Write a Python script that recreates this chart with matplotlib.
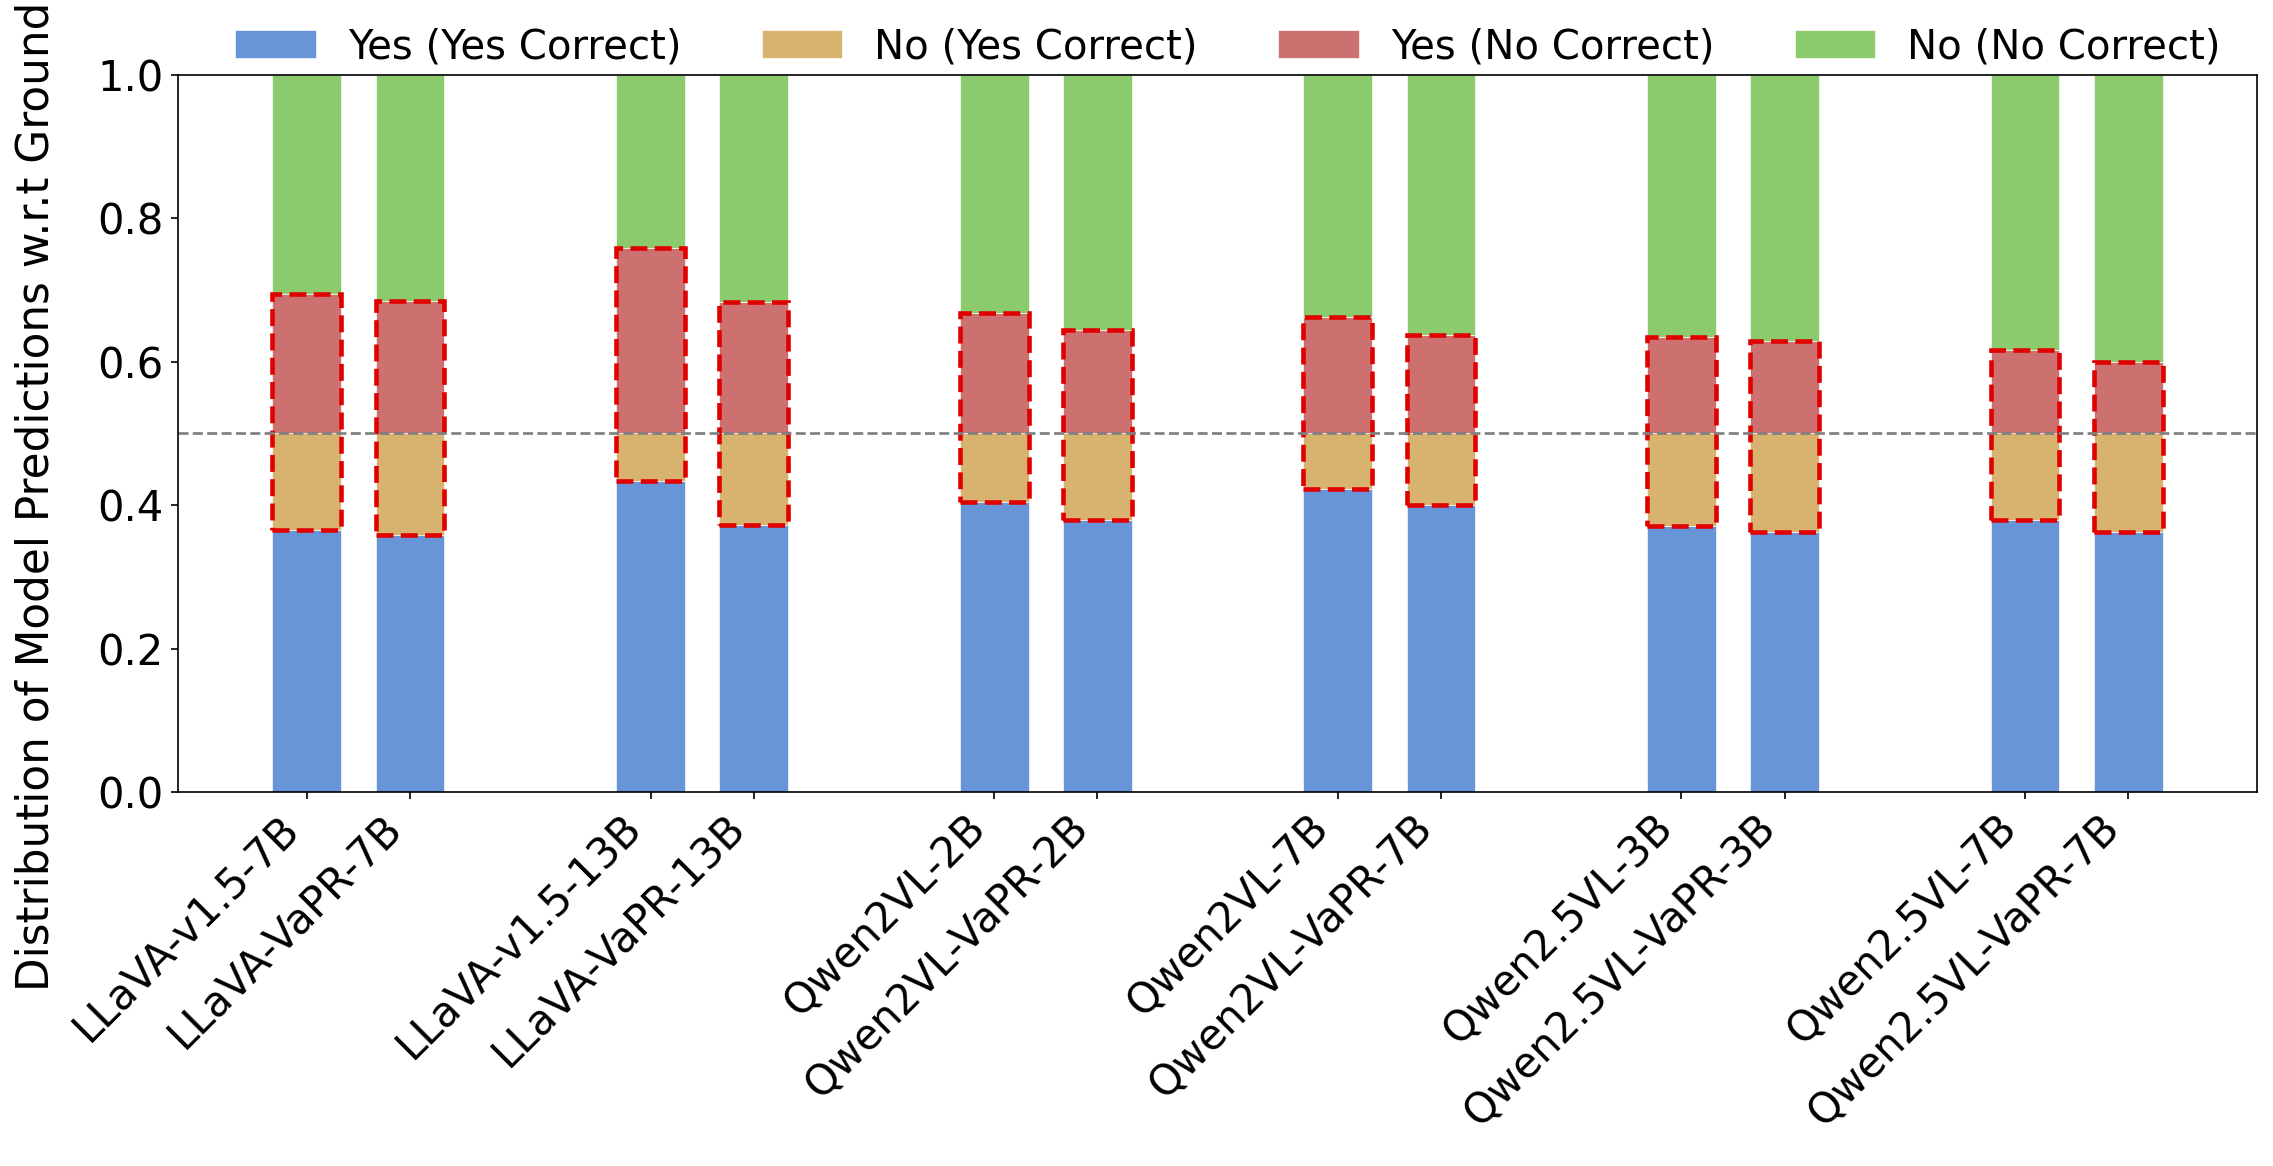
import matplotlib

matplotlib.use("Agg")
import matplotlib.pyplot as plt
import numpy as np

models = [
    "LLaVA-v1.5-7B", "LLaVA-VaPR-7B",
    "LLaVA-v1.5-13B", "LLaVA-VaPR-13B",
    "Qwen2VL-2B", "Qwen2VL-VaPR-2B",
    "Qwen2VL-7B", "Qwen2VL-VaPR-7B",
    "Qwen2.5VL-3B", "Qwen2.5VL-VaPR-3B",
    "Qwen2.5VL-7B", "Qwen2.5VL-VaPR-7B",
]

# fractions of all predictions (each ground-truth half sums to 0.5)
yes_yes = [0.365, 0.359, 0.434, 0.373, 0.404, 0.379,
           0.422, 0.400, 0.371, 0.363, 0.379, 0.362]
no_yes = [0.135, 0.141, 0.066, 0.127, 0.096, 0.121,
          0.078, 0.100, 0.129, 0.137, 0.121, 0.138]
yes_no = [0.194, 0.185, 0.258, 0.183, 0.168, 0.144,
          0.163, 0.137, 0.135, 0.129, 0.117, 0.100]
no_no = [0.306, 0.315, 0.242, 0.317, 0.332, 0.356,
         0.337, 0.363, 0.365, 0.371, 0.383, 0.400]

labels = ["Yes (Yes Correct)", "No (Yes Correct)", "Yes (No Correct)", "No (No Correct)"]
colors = ["#6895d8", "#d8b36f", "#cc7070", "#8ccb6d"]


def main():
    fig = plt.figure(figsize=(2273 / 150, 1166 / 150), dpi=150)
    ax = fig.add_axes([0.0783, 0.3208, 0.9147, 0.6149])

    n_groups = len(models) // 2
    x = []
    for g in range(n_groups):
        x += [g - 0.15, g + 0.15]
    x = np.array(x)
    width = 0.2

    segs = [np.array(yes_yes), np.array(no_yes), np.array(yes_no), np.array(no_no)]
    bottom = np.zeros(len(models))
    for seg, lab, col in zip(segs, labels, colors):
        ax.bar(x, seg, width, bottom=bottom, color=col, label=lab,
               edgecolor="white", linewidth=0.3)
        bottom = bottom + seg

    # dashed box around the wrong predictions
    ax.bar(x, segs[1] + segs[2], width, bottom=segs[0], fill=False,
           edgecolor="#e00000", linestyle="--", linewidth=2.2)

    ax.axhline(0.5, color="gray", linestyle="--", linewidth=1.3)

    ax.set_ylim(0, 1.0)
    ax.set_xticks(x)
    ax.set_xticklabels(models, rotation=45, ha="right", fontsize=20)
    ax.tick_params(axis="y", labelsize=20)
    ax.set_ylabel("Distribution of Model Predictions w.r.t Ground Truth",
                  fontsize=21, labelpad=19)

    ax.legend(loc="center", bbox_to_anchor=(0.505, 1.039), ncol=4,
              frameon=False, fontsize=19.3)

    fig.savefig("out.png", dpi=150)


if __name__ == "__main__":
    main()
